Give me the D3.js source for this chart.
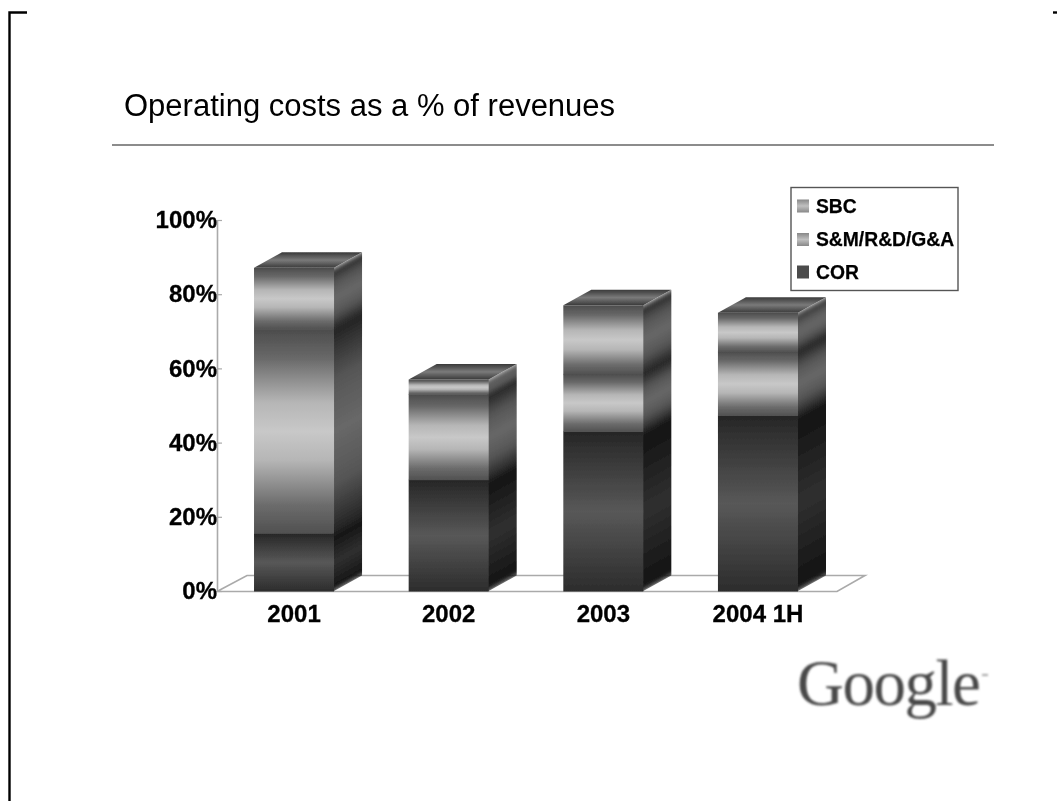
<!DOCTYPE html>
<html><head><meta charset="utf-8">
<script src="https://cdn.jsdelivr.net/npm/d3@7"></script>
<style>html,body{margin:0;background:#fff}svg{display:block}</style></head>
<body><svg id="c" width="1057" height="801"></svg>
<script>
const categories=["2001","2002","2003","2004 1H"];
const seriesNames=["COR","S&M/R&D/G&A","SBC"];
const cor=[15.6,30,43,47.3];
const sga=[55,23,15.5,17.2];
const sbc=[16.5,4,18.5,10.5];
const yTicks=[0,20,40,60,80,100];
const titleText="Operating costs as a % of revenues";
const logoText="Google";

const svg=d3.select("#c");
const defs=svg.append("defs");
function blur(id,sd){
  defs.append("filter").attr("id",id).attr("filterUnits","userSpaceOnUse").attr("x",0).attr("y",0).attr("width",1057).attr("height",801)
    .append("feGaussianBlur").attr("stdDeviation",sd);
}
blur("soft",0.7);blur("textSoft",0.6);blur("logoSoft",0.8);blur("vert","0 3");
function grad(id,stops){
  const g=defs.append("linearGradient").attr("id",id).attr("x1",0).attr("y1",0).attr("x2",0).attr("y2",1);
  stops.forEach(s=>g.append("stop").attr("offset",s[0]).attr("stop-color",s[1]));
}
grad("fCor",[[0,"#262626"],[.5,"#585858"],[1,"#2c2c2c"]]);
grad("sCor",[[0,"#111"],[.5,"#303030"],[1,"#111"]]);
grad("fSga",[[0,"#4c4c4c"],[.14,"#686868"],[.36,"#b6b6b6"],[.5,"#c8c8c8"],[.64,"#b6b6b6"],[.86,"#6c6c6c"],[1,"#505050"]]);
grad("sSga",[[0,"#222"],[.25,"#565656"],[.5,"#686868"],[.75,"#565656"],[1,"#222"]]);
grad("top",[[0,"#3a3a3a"],[.5,"#7a7a7a"],[1,"#3a3a3a"]]);
grad("lSga",[[0,"#888"],[.5,"#c0c0c0"],[1,"#888"]]);
const fronts=["fCor","fSga","fSga"],sides=["sCor","sSga","sSga"];

const g=svg.append("g").attr("filter","url(#soft)");
const t=svg.append("g").attr("filter","url(#textSoft)");
const ff="Liberation Sans";

const y=d3.scaleLinear().domain([0,100]).range([591,220]);
const x=d3.scaleBand().domain(categories).range([220,832]).paddingInner(0.4825).paddingOuter(0.22);
const dx=28,dy=15.5;

// page corner marks and title
t.append("path").attr("d","M9.5,801V12.5H27").attr("fill","none").attr("stroke","#000").attr("stroke-width",2.4);
t.append("path").attr("d","M1053,12.5H1057").attr("fill","none").attr("stroke","#000").attr("stroke-width",2.4);
t.append("text").attr("x",124).attr("y",116).attr("font-family",ff).attr("font-size",31).attr("fill","#000").text(titleText);
g.append("line").attr("x1",112).attr("x2",994).attr("y1",145).attr("y2",145).attr("stroke","#666").attr("stroke-width",1.6);

// floor
g.append("path").attr("fill","#fff").attr("stroke","#aaa").attr("stroke-width",1.6)
 .attr("d",`M217,${y(0)+0.5}L247,${y(0)-dy}H865L837,${y(0)+0.5}Z`);

// y axis
const axis=d3.axisLeft(y).tickValues(yTicks).tickSizeInner(-5).tickSizeOuter(0).tickPadding(0).tickFormat(d=>d+"%");
const ax=g.append("g").attr("transform","translate(217,0)").call(axis);
ax.select(".domain").attr("stroke","#aaa").attr("stroke-width",1.6);
ax.selectAll(".tick line").attr("stroke","#aaa").attr("stroke-width",1.2);
ax.selectAll("text").remove();
const ayl=t.append("g").attr("transform","translate(217,0)").call(axis);
ayl.select(".domain").remove();ayl.selectAll(".tick line").remove();
ayl.selectAll("text").attr("font-family",ff).attr("font-weight","bold").attr("font-size",24).attr("fill","#000").attr("stroke","#000").attr("stroke-width",0.3);

// x labels
const xa=d3.axisBottom(x).tickSize(0).tickPadding(14);
const xg=t.append("g").attr("transform",`translate(0,${y(0)})`).call(xa);
xg.select(".domain").remove();
xg.selectAll("text").attr("font-family",ff).attr("font-weight","bold").attr("font-size",24).attr("fill","#000").attr("stroke","#000").attr("stroke-width",0.3);

// bars
const series=[cor,sga,sbc];
categories.forEach((c,i)=>{
  let base=0;
  const bx=x(c),bw=x.bandwidth();
  const total=cor[i]+sga[i]+sbc[i];
  const cid="side"+i;
  defs.append("clipPath").attr("id",cid).append("path")
    .attr("d",`M${bx+bw-1.5},${y(0)}h1.5l${dx},${-dy}V${y(total)-dy}l${-dx},${dy}h-1.5Z`);
  const sideG=g.append("g").attr("clip-path",`url(#${cid})`).append("g").attr("filter","url(#vert)");
  series.forEach((s,k)=>{
    const top=base+s[i];
    sideG.append("rect").attr("x",-3).attr("y",y(top)).attr("width",dx+6).attr("height",y(base)-y(top)+.5)
      .attr("transform",`matrix(1,${-dy/dx},0,1,${bx+bw},0)`).attr("fill",`url(#${sides[k]})`);
    g.append("rect").attr("x",bx).attr("y",y(top)).attr("width",bw).attr("height",y(base)-y(top)+.5).attr("fill",`url(#${fronts[k]})`);
    base=top;
  });
  g.append("path").attr("fill","url(#top)")
   .attr("d",`M${bx},${y(base)}l${dx},${-dy}h${bw}l${-dx},${dy}Z`);
});

// legend
g.append("rect").attr("x",791).attr("y",187.5).attr("width",167).attr("height",103).attr("fill","#fff").attr("stroke","#555").attr("stroke-width",1.4);
[["SBC",206,"url(#lSga)"],["S&M/R&D/G&A",239.5,"url(#lSga)"],["COR",272,"#4c4c4c"]].forEach(d=>{
  g.append("rect").attr("x",797).attr("y",d[1]-6.5).attr("width",12).attr("height",13).attr("fill",d[2]);
  t.append("text").attr("x",816).attr("y",d[1]+6.5).attr("font-family",ff).attr("font-weight","bold").attr("font-size",19.3).attr("fill","#000").attr("stroke","#000").attr("stroke-width",0.25).text(d[0]);
});

// logo
const lo=svg.append("g").attr("filter","url(#logoSoft)");
lo.append("text").attr("x",797).attr("y",705).attr("font-family","Liberation Serif").attr("font-size",65).attr("letter-spacing",-1.5).attr("fill","#4a4a4a").text(logoText);
lo.append("line").attr("x1",982).attr("x2",988).attr("y1",675).attr("y2",675).attr("stroke","#888").attr("stroke-width",1.5);
</script></body></html>
